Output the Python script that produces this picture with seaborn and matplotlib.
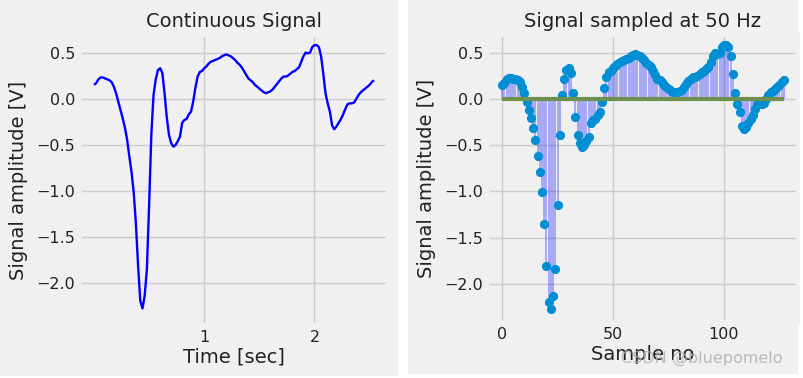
# Continuous signal and its 50 Hz sampled version (stem plot).

import numpy as np
import pandas as pd
import matplotlib.pyplot as plt
from matplotlib.patches import Rectangle
import seaborn as sns

fs = 50
signal = [0.15, 0.17, 0.21, 0.23, 0.23, 0.22, 0.21, 0.20, 0.18, 0.13,
          0.06, -0.03, -0.12, -0.21, -0.31, -0.44, -0.62, -0.79, -1.01, -1.35,
          -1.81, -2.19, -2.27, -2.13, -1.84, -1.15, -0.39, 0.04, 0.21, 0.31,
          0.33, 0.28, 0.06, -0.20, -0.39, -0.48, -0.52, -0.50, -0.46, -0.41,
          -0.26, -0.23, -0.22, -0.17, -0.14, -0.03, 0.12, 0.24, 0.29, 0.30,
          0.33, 0.35, 0.38, 0.40, 0.41, 0.42, 0.43, 0.44, 0.46, 0.47,
          0.48, 0.47, 0.46, 0.44, 0.42, 0.39, 0.37, 0.34, 0.30, 0.26,
          0.22, 0.20, 0.18, 0.15, 0.13, 0.11, 0.09, 0.07, 0.06, 0.07,
          0.08, 0.10, 0.13, 0.16, 0.19, 0.22, 0.24, 0.24, 0.25, 0.27,
          0.29, 0.30, 0.32, 0.34, 0.40, 0.46, 0.50, 0.49, 0.50, 0.56,
          0.58, 0.58, 0.56, 0.46, 0.27, 0.06, -0.05, -0.14, -0.29, -0.33,
          -0.30, -0.26, -0.22, -0.17, -0.11, -0.06, -0.05, -0.05, -0.04, 0.00,
          0.04, 0.07, 0.09, 0.11, 0.13, 0.15, 0.18, 0.20]
sample_no = np.arange(len(signal))
time_sec = sample_no / fs

df = pd.DataFrame({'time': time_sec, 'sample': sample_no, 'amp': signal})

# Style: fivethirtyeight look.

plt.style.use('fivethirtyeight')
plt.rcParams.update({
    'font.family': ['DejaVu Sans'],
    'font.size': 11,
    'axes.titlesize': 14,
    'axes.labelsize': 14,
    'xtick.labelsize': 11.5,
    'ytick.labelsize': 11.5,
    'grid.color': '#cbcbcb',
    'grid.linewidth': 1.0,
})

W, H = 804, 378
fig = plt.figure(figsize=(W / 100, H / 100), dpi=100, facecolor='white')

# two grey panels on a white page
fig.patches.append(Rectangle((0, 2 / H), 398 / W, 1 - 2 / H, transform=fig.transFigure,
                             facecolor='#f0f0f0', edgecolor='none', zorder=-10))
fig.patches.append(Rectangle((408 / W, 4 / H), 390 / W, 1 - 4 / H, transform=fig.transFigure,
                             facecolor='#f0f0f0', edgecolor='none', zorder=-10))

ax1 = fig.add_axes([80 / W, (H - 325) / H, 308 / W, 290 / H])
ax2 = fig.add_axes([488 / W, (H - 322) / H, 310 / W, 287 / H])

# Left: continuous signal.

sns.lineplot(data=df, x='time', y='amp', ax=ax1, color='b', linewidth=1.7)
ax1.set_title('Continuous Signal')
ax1.set_xlabel('Time [sec]', labelpad=2)
ax1.set_ylabel('Signal amplitude [V]', labelpad=6)
ax1.set_xticks([1, 2])
ax1.set_ylim(-2.45, 0.69)

# Right: sampled signal as stems.

markerline, stemlines, baseline = ax2.stem(df['sample'], df['amp'],
                                           linefmt='b-', markerfmt='o', basefmt='-')
plt.setp(stemlines, linewidth=1.1, alpha=0.38, color='b')
plt.setp(markerline, color='#008fd5', markersize=5.6)
plt.setp(baseline, color='#6d904f', linewidth=3)
ax2.set_title('Signal sampled at 50 Hz')
ax2.set_xlabel('Sample no', labelpad=2)
ax2.set_ylabel('Signal amplitude [V]', labelpad=6)
ax2.set_xticks([0, 50, 100])
ax2.set_xlim(-6.35, 133.35)
ax2.set_ylim(-2.41, 0.69)

for ax in (ax1, ax2):
    ax.set_facecolor('#f0f0f0')
    ax.tick_params(colors='#333333', labelcolor='#222222')
    ax.title.set_color('#222222')
    ax.xaxis.label.set_color('#222222')
    ax.yaxis.label.set_color('#222222')

fig.text(702 / W, 1 - 358 / H, 'CSDN @bluepomelo', ha='center', va='center',
         fontsize=11.5, color='#b0b0b0', alpha=0.85)

fig.savefig('out.png', dpi=100, facecolor='white')
